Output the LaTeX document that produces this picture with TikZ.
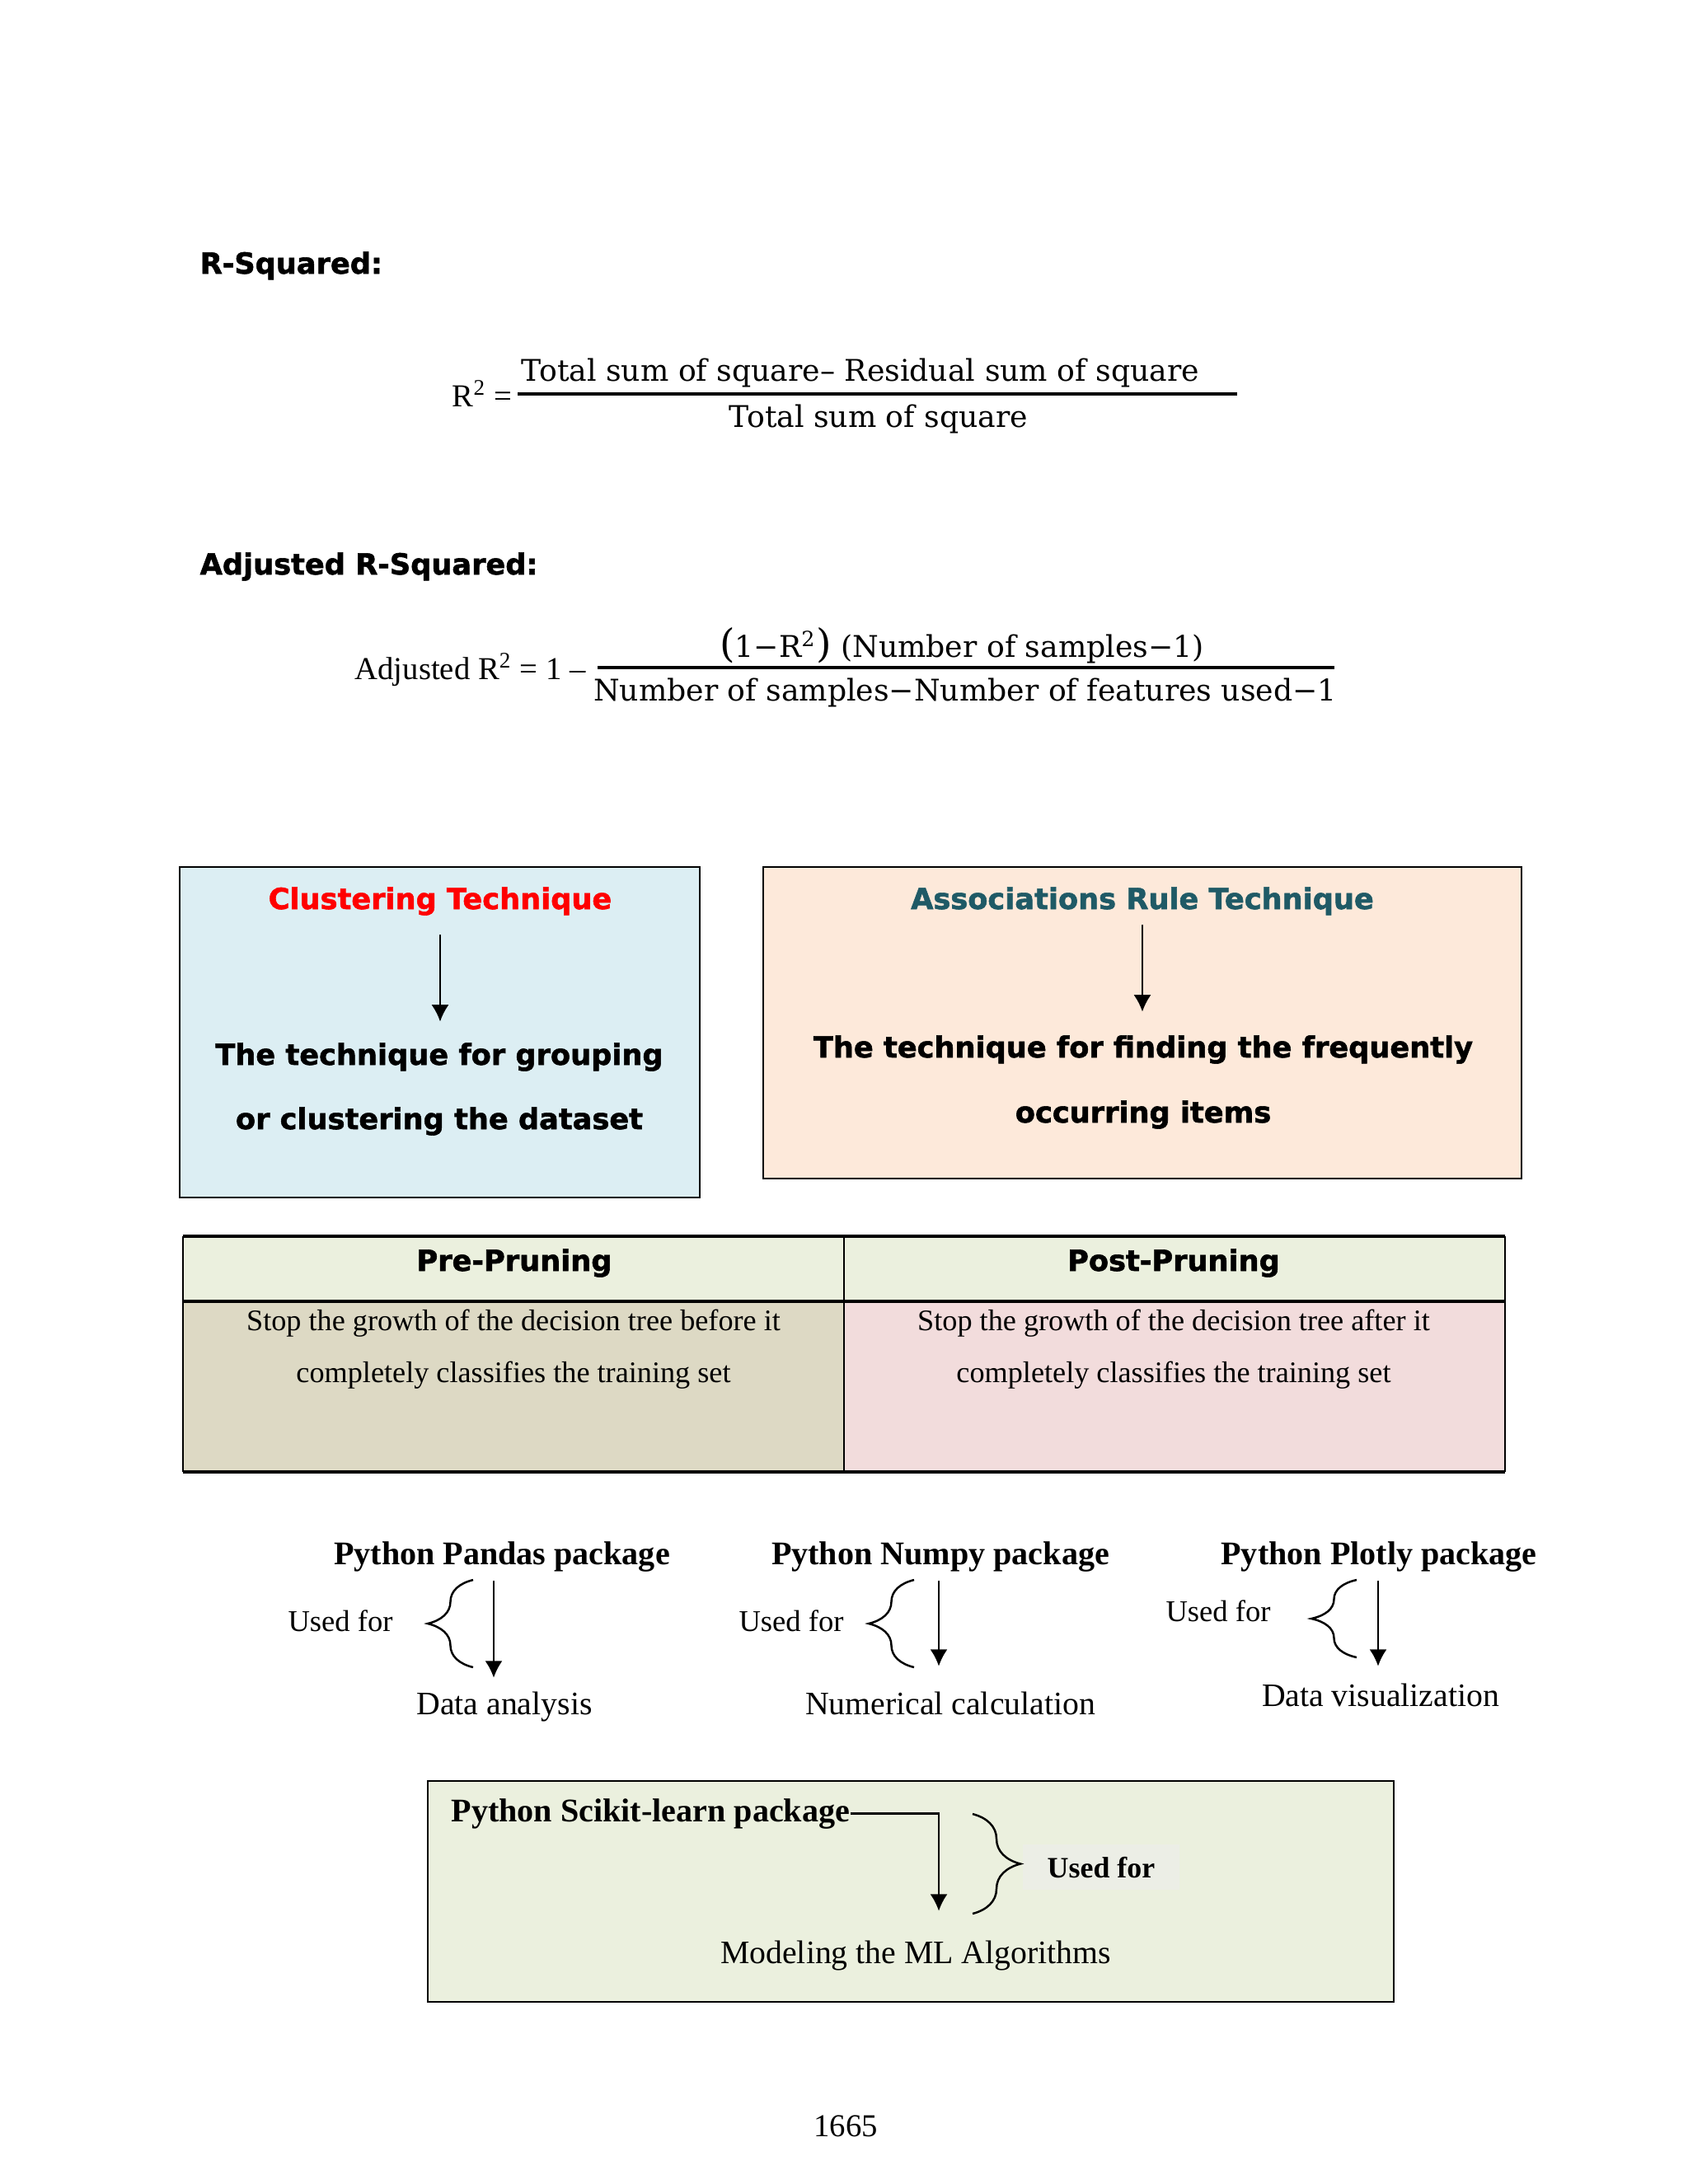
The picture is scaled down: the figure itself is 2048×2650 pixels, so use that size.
\documentclass[tikz,border=0pt]{standalone}
\usepackage{fontspec}
\setmainfont{Liberation Serif}
\newfontfamily\headfont{DejaVu Sans}[BoldFeatures={FakeBold=1.6}]
\newfontfamily\eqfont{DejaVu Serif}
\usetikzlibrary{arrows.meta,decorations.pathreplacing}

\definecolor{clusterblue}{HTML}{DCEEF3}
\definecolor{assocpeach}{HTML}{FDE9DA}
\definecolor{headgreen}{HTML}{EBF0DE}
\definecolor{pretan}{HTML}{DDD9C4}
\definecolor{postpink}{HTML}{F2DCDC}
\definecolor{ruleteal}{HTML}{1F5A66}
\definecolor{usedgrey}{HTML}{ECEEE6}

\tikzset{
    secthead/.style={font=\headfont\bfseries\fontsize{10}{12}\selectfont, inner sep=0pt},
    boxhead/.style={font=\headfont\bfseries\fontsize{10}{12}\selectfont, inner sep=0pt, anchor=base},
    eqtxt/.style={font=\eqfont\fontsize{10.3}{12}\selectfont, inner sep=0pt, anchor=base},
    eqside/.style={font=\fontsize{11}{13}\selectfont, inner sep=0pt},
    bodytxt/.style={font=\fontsize{10.3}{12}\selectfont, inner sep=0pt, anchor=base},
    pkgtitle/.style={font=\bfseries\fontsize{11.4}{13}\selectfont, inner sep=0pt, anchor=base},
    usedtxt/.style={font=\fontsize{10.4}{12}\selectfont, inner sep=0pt, anchor=base},
    pkgresult/.style={font=\fontsize{11.3}{13}\selectfont, inner sep=0pt, anchor=base},
    panel/.style={draw, line width=0.8pt},
    fracline/.style={line width=1.2pt},
    arr/.style={->, line width=0.7pt, >={Latex[length=5.8pt,width=6pt]}},
    brc/.style={decorate, decoration={brace, amplitude=0.55cm}, line width=0.7pt}
}

\begin{document}
\begin{tikzpicture}[x=0.01cm, y=-0.01cm]
    \useasboundingbox (0,0) rectangle (2048,2650);

    % R-squared
    \node[secthead, anchor=base west] (rsq) at (242,332) {R-Squared:};
    \node[eqside, anchor=base west] (rlhs) at (548,493) {R\textsuperscript{2} =};
    \node[eqtxt] (rnum) at (1044,462) {Total sum of square– Residual sum of square};
    \node[eqtxt] (rden) at (1066,518) {Total sum of square};
    \draw[fracline] (628,478) -- (1501,478);

    % adjusted R-squared
    \node[secthead, anchor=base west] (arsq) at (242,697) {Adjusted R-Squared:};
    \node[eqside, anchor=base west] (alhs) at (430,824) {Adjusted R\textsuperscript{2} = 1 –};
    \node[eqtxt] (anum) at (1167,797) {{\fontsize{13.5}{14}\selectfont(}1−R\textsuperscript{2}{\fontsize{13.5}{14}\selectfont)} (Number of samples−1)};
    \node[eqtxt] (aden) at (1171,850) {Number of samples−Number of features used−1};
    \draw[fracline] (725,810) -- (1619,810);

    % clustering box
    \draw[panel, fill=clusterblue] (218,1052) rectangle (849,1453);
    \node[boxhead, text=red] (clt) at (534,1103) {Clustering Technique};
    \node[boxhead] (cld1) at (533,1292) {The technique for grouping};
    \node[boxhead] (cld2) at (533,1370) {or clustering the dataset};
    \draw[arr, shorten <=0.23cm, shorten >=0.25cm] (clt.south) -- (clt.south |- cld1.north);

    % association box
    \draw[panel, fill=assocpeach] (926,1052) rectangle (1846,1430);
    \node[boxhead, text=ruleteal] (art) at (1386,1103) {Associations Rule Technique};
    \node[boxhead] (ard1) at (1387,1283) {The technique for finding the frequently};
    \node[boxhead] (ard2) at (1387,1362) {occurring items};
    \draw[arr, shorten <=0.11cm, shorten >=0.28cm] (art.south) -- (art.south |- ard1.north);

    % pruning table
    \fill[headgreen] (222,1500) rectangle (1826,1579);
    \fill[pretan] (222,1579) rectangle (1024,1786);
    \fill[postpink] (1024,1579) rectangle (1826,1786);
    \draw[line width=0.6pt] (222,1500) -- (222,1786) (1024,1500) -- (1024,1786) (1826,1500) -- (1826,1786);
    \draw[line width=1.1pt] (222,1500) -- (1826,1500) (222,1579) -- (1826,1579) (222,1786) -- (1826,1786);
    \node[boxhead] (pre) at (624,1542) {Pre-Pruning};
    \node[boxhead] (post) at (1424,1542) {Post-Pruning};
    \node[bodytxt] (pre1) at (623,1614) {Stop the growth of the decision tree before it};
    \node[bodytxt] (pre2) at (623,1677) {completely classifies the training set};
    \node[bodytxt] (post1) at (1424,1614) {Stop the growth of the decision tree after it};
    \node[bodytxt] (post2) at (1424,1677) {completely classifies the training set};

    % python packages
    \node[pkgtitle] (pt1) at (609,1898) {Python Pandas package};
    \node[pkgtitle] (pt2) at (1141,1898) {Python Numpy package};
    \node[pkgtitle] (pt3) at (1673,1898) {Python Plotly package};
    \node[usedtxt] (pu1) at (413,1979) {Used for};
    \node[usedtxt] (pu2) at (960,1979) {Used for};
    \node[usedtxt] (pu3) at (1478,1967) {Used for};
    \node[pkgresult] (pr1) at (612,2080) {Data analysis};
    \node[pkgresult] (pr2) at (1153,2080) {Numerical calculation};
    \node[pkgresult] (pr3) at (1675,2070) {Data visualization};
    \draw[brc] (574,2023) -- (574,1917);
    \draw[brc] (1109,2023) -- (1109,1917);
    \draw[brc] (1646,2011) -- (1646,1917);
    \draw[arr, shorten <=0.1cm, shorten >=0.16cm] (pt1.south -| 599,0) -- (pr1.north -| 599,0);
    \draw[arr, shorten <=0.1cm, shorten >=0.3cm] (pt2.south -| 1139,0) -- (pr2.north -| 1139,0);
    \draw[arr, shorten <=0.1cm, shorten >=0.2cm] (pt3.south -| 1672,0) -- (pr3.north -| 1672,0);

    % scikit-learn box
    \draw[panel, fill=headgreen] (519,2161) rectangle (1691,2429);
    \node[pkgtitle, anchor=base west] (skt) at (547,2210) {Python Scikit-learn package};
    \node[pkgresult] (skr) at (1111,2382) {Modeling the ML Algorithms};
    \node[pkgtitle, font=\bfseries\fontsize{10.2}{12}\selectfont, fill=usedgrey,
          inner xsep=0.3cm, inner ysep=0.15cm, anchor=base west] (sku) at (1240,2278) {Used for};
    \draw[arr, shorten >=0.35cm] (skt.east) -| ([xshift=0.28cm]skr.north);
    \draw[brc, decoration={brace, amplitude=0.58cm}] (1180,2201) -- (1180,2322);

    % page number
    \node[pkgresult, font=\fontsize{11}{13}\selectfont] (pgno) at (1026,2592) {1665};
\end{tikzpicture}
\end{document}
